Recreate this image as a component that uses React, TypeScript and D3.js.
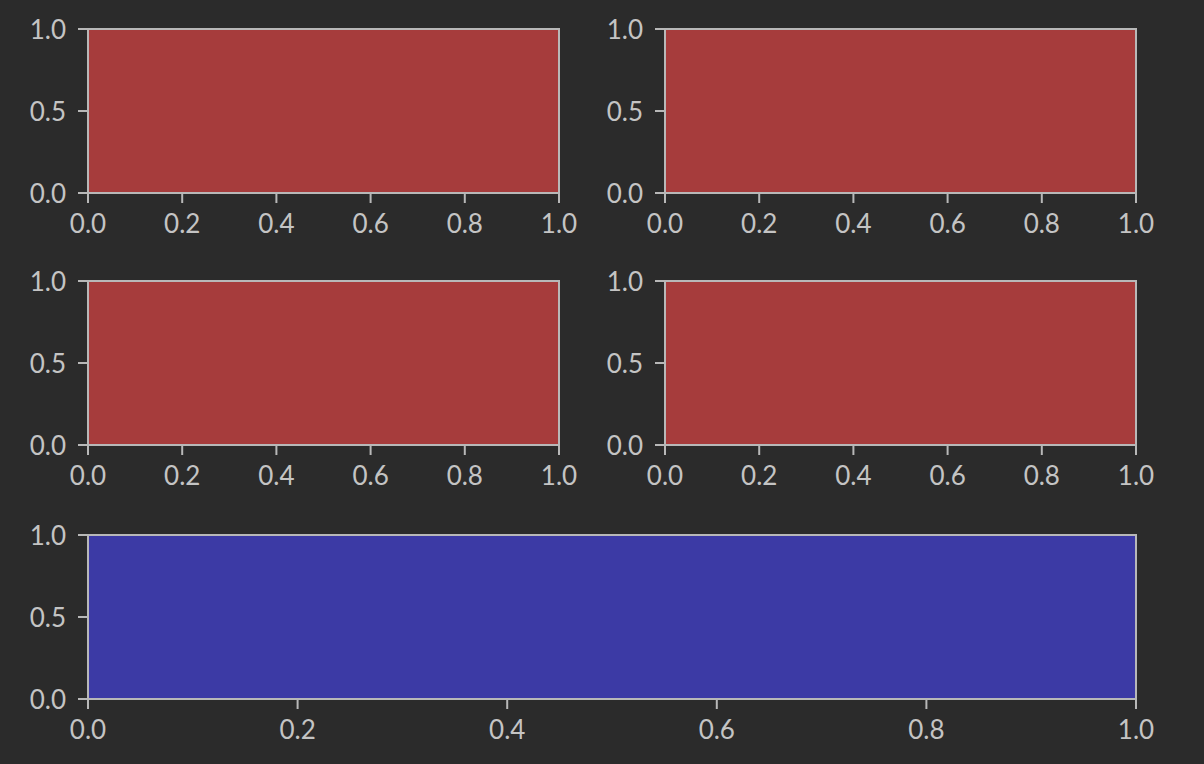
import React from "react";
import * as d3 from "d3";

const xTicks = [0, 0.2, 0.4, 0.6, 0.8, 1.0];
const yTicks = [0, 0.5, 1.0];
const panels = [
  { name: "ax1", col: 0, row: 0, span: 1, fill: "#a63c3c" },
  { name: "ax2", col: 1, row: 0, span: 1, fill: "#a63c3c" },
  { name: "ax3", col: 0, row: 1, span: 1, fill: "#a63c3c" },
  { name: "ax4", col: 1, row: 1, span: 1, fill: "#a63c3c" },
  { name: "ax5", col: 0, row: 2, span: 2, fill: "#3c3aa5" },
];
const xDomain = [0, 1];
const yDomain = [0, 1];

const W = 1204;
const H = 764;
const BG = "#2b2b2b";
const FG = "#c4c4c4";
const SPINE = "#b8b8b8";
const FONT = "Lato, 'DejaVu Sans', sans-serif";
const FS = 26;

const colLeft = [88, 665];
const colWidth = 471;
const rowTop = [29, 281, 535];
const rowHeight = 164;

function Panel({ p }: { p: typeof panels[number] }) {
  const x0 = colLeft[p.col];
  const x1 = p.span === 2 ? colLeft[1] + colWidth : x0 + colWidth;
  const y0 = rowTop[p.row];
  const y1 = y0 + rowHeight;
  const x = d3.scaleLinear().domain(xDomain).range([x0, x1]);
  const y = d3.scaleLinear().domain(yDomain).range([y1, y0]);
  return (
    <g>
      <rect x={x(0)} y={y(1)} width={x(1) - x(0)} height={y(0) - y(1)} fill={p.fill} />
      <rect x={x(0)} y={y(1)} width={x(1) - x(0)} height={y(0) - y(1)} fill="none" stroke={SPINE} strokeWidth={2} />
      {xTicks.map((t) => (
        <g key={"x" + t}>
          <line x1={x(t)} x2={x(t)} y1={y1} y2={y1 + 10} stroke={SPINE} strokeWidth={2} />
          <text x={x(t)} y={y1 + 40} textAnchor="middle" fill={FG} fontSize={FS} fontFamily={FONT}>
            {t.toFixed(1)}
          </text>
        </g>
      ))}
      {yTicks.map((t) => (
        <g key={"y" + t}>
          <line x1={x0 - 10} x2={x0} y1={y(t)} y2={y(t)} stroke={SPINE} strokeWidth={2} />
          <text x={x0 - 22} y={y(t) + 10} textAnchor="end" fill={FG} fontSize={FS} fontFamily={FONT}>
            {t.toFixed(1)}
          </text>
        </g>
      ))}
    </g>
  );
}

export default function App() {
  return (
    <svg width={W} height={H} style={{ position: "absolute", left: 0, top: 0, display: "block" }}>
      <rect x={0} y={0} width={W} height={H} fill={BG} />
      {panels.map((p) => (
        <Panel key={p.name} p={p} />
      ))}
    </svg>
  );
}
